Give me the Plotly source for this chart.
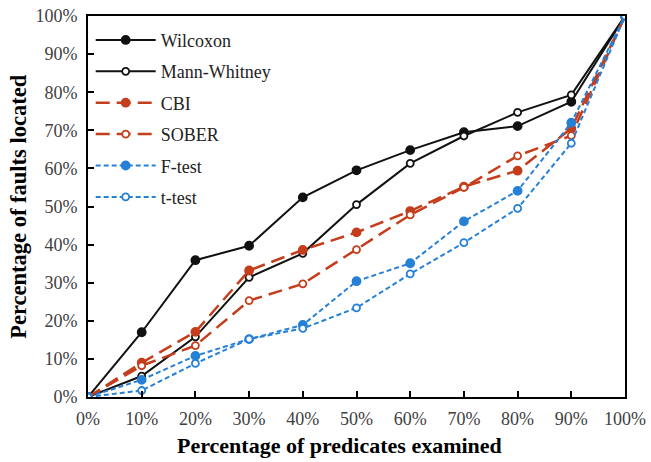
import plotly.graph_objects as go

# Percentage of predicates examined (x) and faults located (y) per technique
pct_examined = [0, 10, 20, 30, 40, 50, 60, 70, 80, 90, 100]
x_tick_labels = [f"{v}%" for v in pct_examined]
y_ticks = [0, 10, 20, 30, 40, 50, 60, 70, 80, 90, 100]
y_tick_labels = [f"{v}%" for v in y_ticks]

wilcoxon = [0, 17.0, 35.9, 39.7, 52.4, 59.5, 64.8, 69.5, 71.1, 77.5, 100]
mann_whitney = [0, 5.5, 15.8, 31.4, 37.7, 50.5, 61.3, 68.5, 74.7, 79.3, 100]
cbi = [0, 9.0, 17.1, 33.2, 38.6, 43.2, 48.8, 55.2, 59.4, 70.5, 100]
sober = [0, 8.2, 13.5, 25.3, 29.7, 38.7, 47.8, 55.0, 63.3, 68.6, 100]
f_test = [0, 4.5, 10.8, 15.2, 18.9, 30.4, 35.1, 46.1, 54.1, 72.0, 100]
t_test = [0, 1.7, 8.8, 15.2, 18.0, 23.4, 32.3, 40.5, 49.5, 66.6, 100]

x_title = "Percentage of predicates examined"
y_title = "Percentage of faults located"

BLACK = "#111111"
RED = "#C43E1C"
BLUE = "#2680D6"

series = [
    ("Wilcoxon", wilcoxon, BLACK, "solid", True, 2),
    ("Mann-Whitney", mann_whitney, BLACK, "solid", False, 2),
    ("CBI", cbi, RED, "14px,7px", True, 2.5),
    ("SOBER", sober, RED, "14px,7px", False, 2.5),
    ("F-test", f_test, BLUE, "5px,3px", True, 2),
    ("t-test", t_test, BLUE, "5px,3px", False, 2),
]

fig = go.Figure()
for i, (name, vals, color, dash, filled, width) in enumerate(series):
    fig.add_trace(go.Scatter(
        x=pct_examined, y=vals, name=name, mode="lines+markers",
        legendgroup=f"g{i}",
        line=dict(color=color, width=width, dash=dash),
        marker=dict(
            symbol="circle",
            size=8 if filled else 7,
            color=color if filled else "white",
            line=dict(color=color, width=1.8),
        ),
    ))

serif = "Liberation Serif"

axis_common = dict(
    range=[0, 100],
    ticks="inside", ticklen=6, tickwidth=1.5, tickcolor="black",
    showline=True, linecolor="black", linewidth=2, mirror=True,
    showgrid=False, zeroline=False, automargin=False,
    tickfont=dict(family=serif, size=18, color="#404040"),
)

fig.update_layout(
    width=651, height=462,
    margin=dict(l=88, r=26, t=16, b=65, autoexpand=False),
    paper_bgcolor="white", plot_bgcolor="white",
    font=dict(family=serif, color="#333333", size=16),
    showlegend=True,
    legend=dict(
        x=0.005, y=0.985, xanchor="left", yanchor="top",
        bgcolor="rgba(255,255,255,0)",
        font=dict(family=serif, size=18, color="#222222"),
        itemwidth=60,
        tracegroupgap=5,
    ),
    xaxis=dict(tickvals=pct_examined, ticktext=x_tick_labels,
               ticklabelstandoff=4, **axis_common),
    yaxis=dict(tickvals=y_ticks, ticktext=y_tick_labels,
               ticklabelstandoff=5, **axis_common),
)

# Axis titles
fig.add_annotation(
    text=f"<b>{x_title}</b>", xref="paper", yref="paper",
    x=0.469, y=-0.127, xanchor="center", yanchor="middle", showarrow=False,
    font=dict(family=serif, size=22, color="black"),
)
fig.add_annotation(
    text=f"<b>{y_title}</b>", xref="paper", yref="paper", textangle=-90,
    x=-0.130, y=0.5, xanchor="center", yanchor="middle", showarrow=False,
    font=dict(family=serif, size=22.5, color="black"),
)

fig.write_html("out.html")
